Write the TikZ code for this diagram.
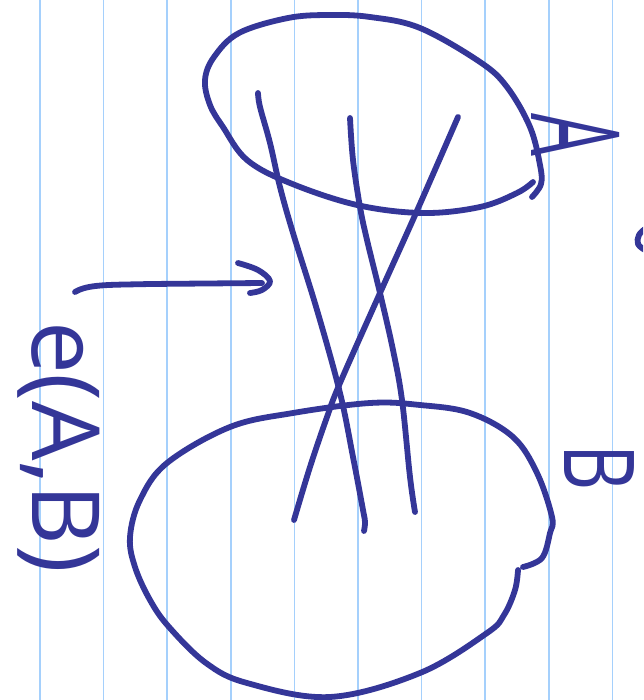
\documentclass[tikz,border=0pt]{standalone}
\usepackage{fontspec}
\setmainfont{Open Sans}
\definecolor{ink}{RGB}{52,54,152}
\definecolor{ruled}{RGB}{165,208,252}
\tikzset{
  pen/.style={draw=ink, line width=5.8pt, line cap=round, line join=round},
  rule/.style={draw=ruled, line width=1.6pt},
  hand/.style={text=ink, inner sep=0pt, outer sep=0pt, rotate=-90}
}
\begin{document}
\begin{tikzpicture}[x=1pt,y=-1pt]
\useasboundingbox (0,0) rectangle (643,700);
\clip (0,0) rectangle (643,700);
\fill[white] (0,0) rectangle (643,700);
% ruled lines
\foreach \k in {0,...,9}{
  \draw[rule] ({40+63.6*\k},0) -- ({40+63.6*\k},700);
}
% set A
\draw[pen] plot[smooth, tension=0.6] coordinates {
  (532,197) (541,184) (540,165) (530,127) (507,87) (480,62) (420,28) (370,17)
  (329,15) (288,18) (239,33) (214,57) (205,80) (210,105) (223,127) (247,160)
  (290,183) (357,205) (423,213) (480,207) (517,193) (533,182)};
% set B
\draw[pen] plot[smooth, tension=0.6] coordinates {
  (518,570) (515,590) (504,615) (487,633) (420,673) (330,697) (247,683)
  (206,663) (169,627) (150,600) (135,567) (130,537) (140,500)
  (167,463) (230,427) (293,413) (370,403) (420,405) (470,413) (513,437)
  (537,473) (552,517) (550,533) (542,558) (523,567)};
% edges
\draw[pen] plot[smooth, tension=0.6] coordinates {
  (258,93) (260,107) (270,143) (280,187) (293,233) (317,310) (340,393)
  (353,457) (363,510) (365,522) (364,531)};
\draw[pen] plot[smooth, tension=0.6] coordinates {
  (350,118) (353,160) (360,207) (367,240) (380,293) (393,350) (402,400)
  (410,477) (415,512)};
\draw[pen] plot[smooth, tension=0.6] coordinates {
  (458,117) (416,213) (380,293) (340,383) (327,417) (310,467) (294,520)};
% arrow
\coordinate (tail) at (75,292);
\coordinate (tip) at (262,283);
\draw[pen] (tail) .. controls (88,284) and (110,285) .. (150,284) -- (tip);
\draw[pen] plot[smooth, tension=0.6] coordinates {
  (238,263) (258,270) (270,281) (262,290) (250,293)};
% labels
\node[hand, font=\fontsize{123}{123}\selectfont] (labA) at (576,135) {\scalebox{0.55}[1]{A}};
\node[hand, font=\fontsize{98}{98}\selectfont] (labB) at (599,468) {\scalebox{0.73}[1]{B}};
\node[hand, font=\fontsize{94}{94}\selectfont, anchor=base] (labE) at (32,447) {e(A,B)};
% cut-off mark at the right edge
\draw[pen] plot[smooth, tension=0.7] coordinates {(645,229) (639,235) (638,244) (645,250)};
\end{tikzpicture}
\end{document}
